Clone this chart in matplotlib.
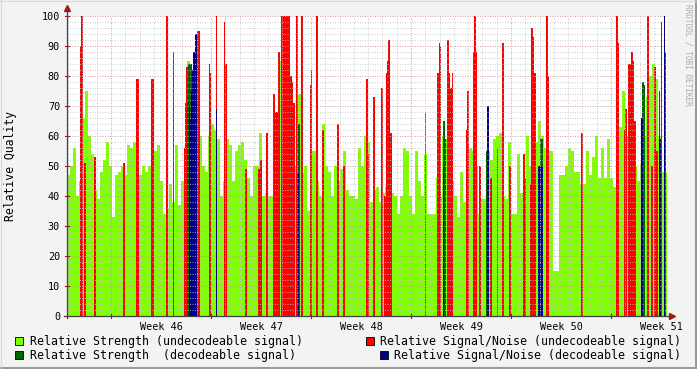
import numpy as np
import matplotlib
matplotlib.use("Agg")
import matplotlib.pyplot as plt
from matplotlib.patches import Rectangle
from matplotlib.lines import Line2D

# ---------------- data (x in ISO week units, week 46 starts at 46.0) ----------------
green_start = 45.56          # first sample (week)
green_step = 0.03            # sample spacing (week)
green_vals = [
    47, 50, 56, 40, 45, 66, 75, 60, 54, 42,
    39, 48, 52, 58, 50, 33, 47, 48, 50, 47,
    57, 56, 58, 45, 47, 50, 48, 50, 57, 55,
    57, 45, 34, 36, 44, 38, 57, 37, 45, 56,
    85, 72, 70, 84, 60, 50, 48, 60, 64, 62,
    59, 40, 45, 59, 57, 45, 55, 57, 58, 52,
    46, 40, 50, 50, 61, 40, 41, 40, 40, 55,
    58, 85, 60, 60, 45, 40, 50, 74, 48, 50,
    35, 55, 55, 45, 40, 64, 50, 48, 40, 50,
    45, 49, 55, 42, 40, 40, 39, 56, 50, 60,
    58, 38, 42, 43, 38, 41, 43, 40, 41, 40,
    34, 40, 56, 55, 40, 34, 55, 45, 40, 54,
    34, 34, 34, 46, 40, 60, 59, 57, 45, 40,
    33, 48, 38, 45, 56, 55, 50, 34, 39, 39,
    55, 52, 59, 60, 61, 40, 39, 58, 34, 34,
    54, 41, 45, 60, 50, 55, 58, 65, 60, 56,
    55, 55, 15, 15, 47, 47, 50, 56, 55, 48,
    48, 44, 44, 55, 47, 53, 60, 46, 56, 46,
    59, 46, 43, 55, 63, 75, 60, 51, 60, 50,
    45, 51, 60, 73, 80, 84, 79, 60, 48, 48,
]

red_t = [45.56, 45.695, 45.71, 45.74, 45.84, 46.13, 46.255, 46.27, 46.41, 46.42,
         46.56, 46.625, 46.735, 46.745, 46.76, 46.87, 46.88, 46.985, 46.995, 47.055,
         47.135, 47.15, 47.35, 47.48, 47.50, 47.56, 47.63, 47.65, 47.66, 47.68,
         47.71, 47.72, 47.73, 47.74, 47.75, 47.76, 47.77, 47.78, 47.80, 47.815,
         47.83, 47.86, 47.885, 47.91, 47.995, 48.005, 48.055, 48.065, 48.12, 48.27,
         48.33, 48.56, 48.57, 48.63, 48.71, 48.74, 48.76, 48.77, 48.78, 48.79,
         48.80, 49.145, 49.27, 49.285, 49.295, 49.37, 49.385, 49.40, 49.415, 49.555,
         49.57, 49.625, 49.64, 49.655, 49.69, 49.80, 49.865, 49.92, 49.99, 50.13,
         50.145, 50.20, 50.21, 50.225, 50.24, 50.36, 50.375, 50.71, 51.06, 51.075,
         51.14, 51.15, 51.18, 51.195, 51.21, 51.225, 51.24, 51.37, 51.41, 51.44,
         51.46, 51.505]
red_vals = [77, 90, 100, 51, 53, 51, 79, 79, 79, 79,
            100, 88, 56, 71, 83, 95, 95, 84, 81, 100,
            98, 84, 49, 49, 52, 61, 74, 68, 68, 88,
            100, 100, 100, 100, 100, 100, 100, 100, 80, 78,
            71, 100, 50, 100, 77, 82, 100, 100, 62, 64,
            50, 79, 54, 73, 76, 40, 81, 85, 92, 61,
            61, 68, 81, 91, 90, 92, 81, 76, 81, 62,
            75, 88, 100, 88, 50, 46, 56, 91, 50, 54,
            46, 44, 96, 93, 81, 100, 80, 61, 100, 91,
            62, 69, 84, 84, 88, 85, 65, 100, 50, 83,
            55, 98]

dkgreen_t = [46.77, 46.78, 46.79, 46.80, 46.81, 46.82, 46.83, 47.88,
             49.33, 49.34, 49.76, 50.30, 50.31, 51.32, 51.33, 51.485, 51.54]
dkgreen_vals = [74, 84, 72, 84, 80, 72, 70, 64,
                65, 59, 55, 59, 59, 78, 77, 75, 88]

blue_t = [46.785, 46.795, 46.81, 46.82, 46.83, 46.845, 46.855, 47.055, 47.87,
          49.325, 49.765, 49.775, 50.28, 50.29, 50.30, 50.315, 51.31, 51.49, 51.535]
blue_vals = [70, 66, 75, 82, 88, 94, 94, 69, 48,
             50, 70, 70, 50, 50, 50, 50, 66, 59, 100]

week_labels = ["Week 46", "Week 47", "Week 48", "Week 49", "Week 50", "Week 51"]
week_label_pos = [46.5, 47.5, 48.5, 49.5, 50.5, 51.5]
y_ticks = [0, 10, 20, 30, 40, 50, 60, 70, 80, 90, 100]

legend_entries = [
    "Relative Strength (undecodeable signal)",
    "Relative Signal/Noise (undecodeable signal)",
    "Relative Strength  (decodeable signal)",
    "Relative Signal/Noise (decodeable signal)",
]

# ---------------- styling ----------------
C_GREEN = "#80FF00"
C_RED = "#FF0000"
C_DKGREEN = "#006600"
C_BLUE = "#000088"
BG = "#F3F3F3"
MONO = "DejaVu Sans Mono"

W, H = 697, 369
fig = plt.figure(figsize=(W / 100, H / 100), dpi=100, facecolor=BG)

def fx(px):
    return px / W

def fy(py):
    return 1 - py / H

x0, x1, ytop, ybot = 67, 667, 16, 316
ax = fig.add_axes([fx(x0), fy(ybot), (x1 - x0) / W, (ybot - ytop) / H])
ax.set_facecolor("white")
xmin, xmax = 45.56, 51.56
ax.set_xlim(xmin, xmax)
ax.set_ylim(0, 100)
for s in ax.spines.values():
    s.set_visible(False)

g_t = green_start + green_step * np.arange(len(green_vals))
ax.bar(g_t, green_vals, width=green_step, align="edge", color=C_GREEN,
       linewidth=0, antialiased=False, zorder=2)
ax.bar(red_t, red_vals, width=0.013, align="center", color=C_RED,
       linewidth=0, antialiased=False, zorder=3)
ax.bar(dkgreen_t, dkgreen_vals, width=0.012, align="center", color=C_DKGREEN,
       linewidth=0, antialiased=False, zorder=4)
ax.bar(blue_t, blue_vals, width=0.012, align="center", color=C_BLUE,
       linewidth=0, antialiased=False, zorder=5)

# grid (drawn on top, as rrdtool does)
for v in np.arange(2, 101, 2):
    if v % 10 == 0:
        ax.axhline(v, color="#D49696", lw=0.72, dashes=(1, 1.5), zorder=6, alpha=0.9)
    else:
        ax.axhline(v, color="#C4C4C4", lw=0.72, dashes=(1, 1.5), zorder=6, alpha=0.8)
day = 1 / 7
d = 46 - 4 * day
while d < xmax:
    if abs(d - round(d)) < 1e-6:
        ax.axvline(d, color="#D49696", lw=0.72, dashes=(1, 1.5), zorder=6, alpha=0.9)
    else:
        ax.axvline(d, color="#C4C4C4", lw=0.72, dashes=(1, 1.5), zorder=6, alpha=0.8)
    d += day

# ticks and labels
ax.set_yticks(y_ticks)
ax.set_yticklabels([str(v) for v in y_ticks], fontfamily=MONO, fontsize=7.3)
ax.tick_params(axis="y", length=0, pad=5)
ax.set_xticks(week_label_pos)
ax.set_xticklabels(week_labels, fontfamily=MONO, fontsize=7.3)
ax.tick_params(axis="x", length=0, pad=4)

# axis lines and arrows
AXC = "#404050"
ARR = "#9B1C1C"
fig.add_artist(Line2D([fx(x0), fx(x0)], [fy(ybot + 2), fy(9)], color=AXC, lw=0.9))
fig.add_artist(Line2D([fx(x0 - 3), fx(671)], [fy(ybot), fy(ybot)], color=AXC, lw=0.9))
fig.add_artist(Line2D([fx(x0)], [fy(8)], marker="^", markersize=4, color=ARR, lw=0))
fig.add_artist(Line2D([fx(672)], [fy(ybot)], marker=">", markersize=4, color=ARR, lw=0))
# small ticks at week boundaries on x-axis
for wk in range(46, 52):
    px = x0 + (wk - xmin) * 100
    fig.add_artist(Line2D([fx(px), fx(px)], [fy(ybot - 2), fy(ybot + 2)], color=ARR, lw=0.8))
for v in y_ticks:
    py = ybot - v * 3
    fig.add_artist(Line2D([fx(x0 - 2), fx(x0 + 2)], [fy(py), fy(py)], color=ARR, lw=0.8))

# y label
fig.text(fx(11), fy(166), "Relative Quality", rotation=90, ha="center", va="center",
         fontfamily=MONO, fontsize=8.3)
# credit
fig.text(fx(688), fy(4), "RRDTOOL / TOBI OETIKER", rotation=270, ha="center", va="top",
         fontfamily=MONO, fontsize=5.6, color="#AAAAAA")

# legend
leg = [
    (15, 341, 30, C_GREEN, legend_entries[0]),
    (366, 341, 380, C_RED, legend_entries[1]),
    (15, 355, 30, C_DKGREEN, legend_entries[2]),
    (380, 355, 394, C_BLUE, legend_entries[3]),
]
for sx, cy, tx, col, txt in leg:
    fig.add_artist(Rectangle((fx(sx), fy(cy + 4)), 8 / W, 8 / H, facecolor=col,
                             edgecolor="black", lw=0.6))
    fig.text(fx(tx), fy(cy), txt, ha="left", va="center", fontfamily=MONO, fontsize=8.35)

# frame shading
fig.add_artist(Line2D([0, 1], [fy(H - 1.5), fy(H - 1.5)], color="#9A9A9A", lw=1.5))
fig.add_artist(Line2D([fx(W - 1.5), fx(W - 1.5)], [0, 1], color="#9A9A9A", lw=1.5))
fig.add_artist(Line2D([0, 1], [fy(0.5), fy(0.5)], color="#D8D8D8", lw=0.8))
fig.add_artist(Line2D([fx(0.5), fx(0.5)], [0, 1], color="#D8D8D8", lw=0.8))

fig.savefig("out.png", dpi=100, facecolor=BG)
